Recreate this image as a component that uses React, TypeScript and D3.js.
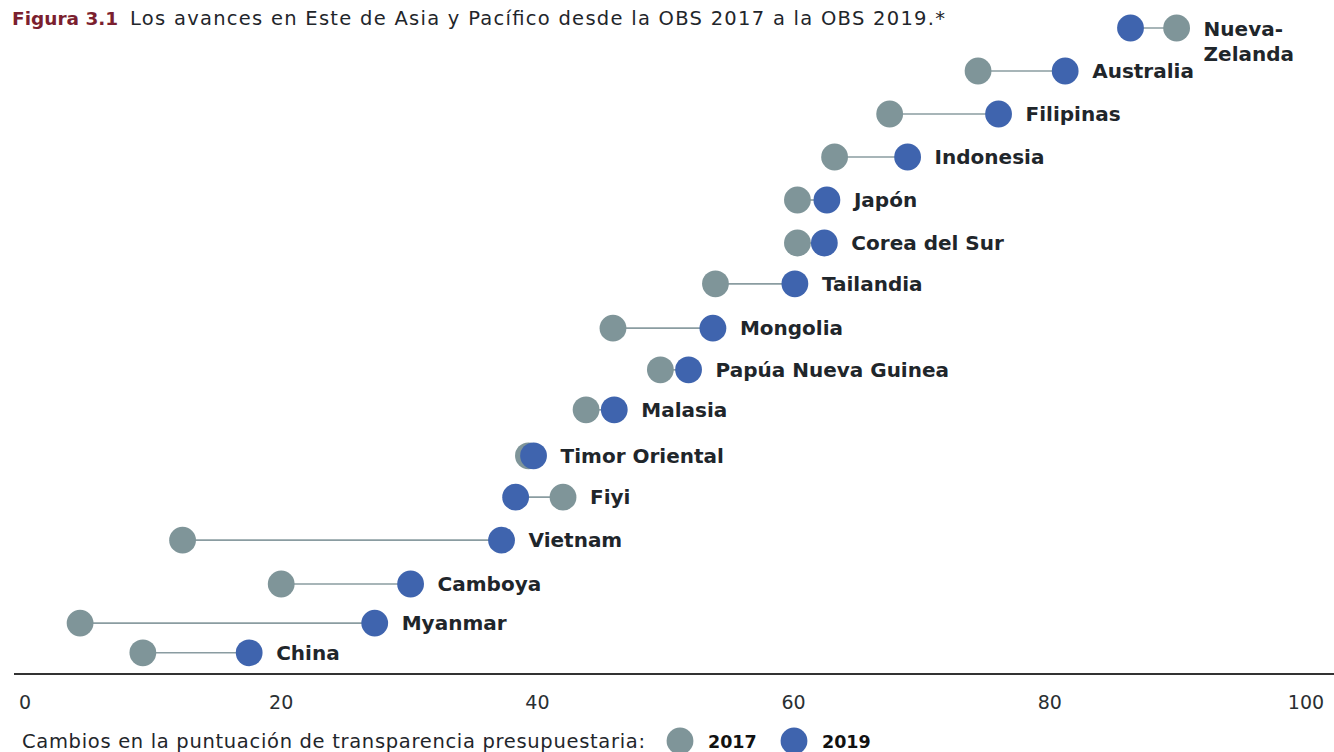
import React from "react";
import * as d3 from "d3";

const countries = ["Nueva-Zelanda", "Australia", "Filipinas", "Indonesia", "Japón", "Corea del Sur", "Tailandia", "Mongolia", "Papúa Nueva Guinea", "Malasia", "Timor Oriental", "Fiyi", "Vietnam", "Camboya", "Myanmar", "China"];
const score2017 = [89.9, 74.4, 67.5, 63.2, 60.3, 60.3, 53.9, 45.9, 49.6, 43.8, 39.3, 42.0, 12.3, 20.0, 4.3, 9.2];
const score2019 = [86.3, 81.2, 76.0, 68.9, 62.6, 62.4, 60.1, 53.7, 51.8, 46.0, 39.7, 38.3, 37.2, 30.1, 27.3, 17.5];
const rowPos = [0, 1, 2, 3, 4, 5, 5.95, 6.98, 7.95, 8.88, 9.95, 10.91, 11.91, 12.93, 13.84, 14.53];
const xTicks = [0, 20, 40, 60, 80, 100];
const legendYears = ["2017", "2019"];

const W = 1334;
const H = 752;
const C17 = "#7f9599";
const C19 = "#3f64ae";
const LINE = "#8a9ca1";
const TEXT = "#1f262b";
const FONT = "'DejaVu Sans', sans-serif";
const R = 13.4;
const LABEL_GAP = 27;

export default function App() {
  const x = d3.scaleLinear().domain([0, 100]).range([25, 1306]);
  const y = d3.scaleLinear().domain([0, 1]).range([28, 71]);

  const rows = countries.map((c, i) => ({ c, a: score2017[i], b: score2019[i], p: rowPos[i] }));

  return (
    <svg width={W} height={H} style={{ position: "absolute", left: 0, top: 0, background: "#fff" }} fontFamily={FONT}>
      <text x={12} y={25} fontSize={18.5} fontWeight={700} fill="#7b1f2f">
        Figura 3.1
      </text>
      <text x={130} y={25} fontSize={19.5} fill={TEXT} textLength={815} lengthAdjust="spacing">
        Los avances en Este de Asia y Pacífico desde la OBS 2017 a la OBS 2019.*
      </text>

      {rows.map((r) => {
        const yy = y(r.p);
        const lo = Math.min(r.a, r.b);
        const hi = Math.max(r.a, r.b);
        const labelX = x(hi) + LABEL_GAP;
        const twoLine = r.c === "Nueva-Zelanda";
        return (
          <g key={r.c}>
            <line x1={x(lo)} x2={x(hi)} y1={yy} y2={yy} stroke={LINE} strokeWidth={1.6} />
            <circle cx={x(r.a)} cy={yy} r={R} fill={C17} />
            <circle cx={x(r.b)} cy={yy} r={R} fill={C19} />
            {twoLine ? (
              <text x={labelX} y={yy} fontSize={20} fontWeight={700} fill={TEXT}>
                <tspan x={labelX} dy={8}>Nueva-</tspan>
                <tspan x={labelX} dy={25}>Zelanda</tspan>
              </text>
            ) : (
              <text x={labelX} y={yy} dy="0.36em" fontSize={20} fontWeight={700} fill={TEXT}>
                {r.c}
              </text>
            )}
          </g>
        );
      })}

      <line x1={14} x2={W} y1={674} y2={674} stroke="#333" strokeWidth={2} />
      {xTicks.map((t) => (
        <text key={t} x={x(t)} y={709} fontSize={19} textAnchor="middle" fill="#2a2f33">
          {t}
        </text>
      ))}

      <text x={22} y={748} fontSize={19.5} fill={TEXT} textLength={623} lengthAdjust="spacing">
        Cambios en la puntuación de transparencia presupuestaria:
      </text>
      {legendYears.map((yr, i) => (
        <g key={yr}>
          <circle cx={680 + i * 114} cy={741} r={R} fill={i === 0 ? C17 : C19} />
          <text x={708 + i * 114} y={748} fontSize={17.5} fontWeight={700} fill="#111">
            {yr}
          </text>
        </g>
      ))}
    </svg>
  );
}
